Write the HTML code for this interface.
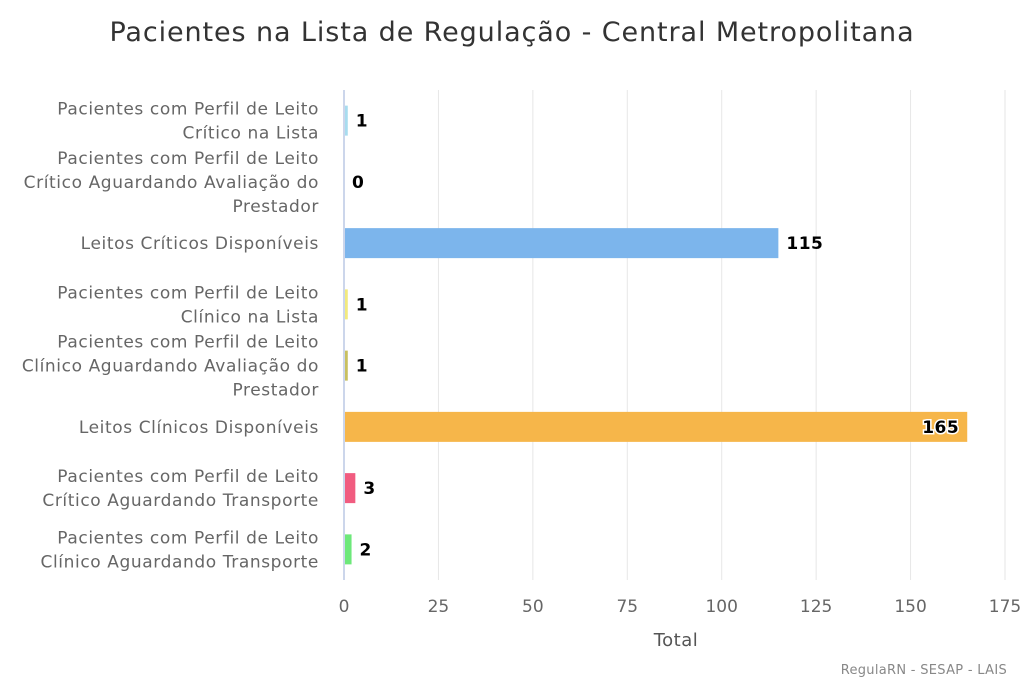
<!DOCTYPE html>
<html><head><meta charset="utf-8"><style>
body{margin:0;background:#fff;}
svg{display:block;font-family:"DejaVu Sans","Liberation Sans",sans-serif;}
</style></head><body>
<svg id="chart" width="1024" height="683" viewBox="0 0 1024 683">
<text x="512" y="41" text-anchor="middle" font-size="27" letter-spacing="0.9" fill="#333">Pacientes na Lista de Regulação - Central Metropolitana</text>
<g id="grid"></g><g id="bars"></g><g id="labels"></g>
<text x="676" y="646" text-anchor="middle" font-size="18" letter-spacing="0.5" fill="#555">Total</text>
<text x="1007" y="674" text-anchor="end" font-size="13" letter-spacing="0.3" fill="#888">RegulaRN - SESAP - LAIS</text>
</svg>
<script>
const categories=[["Pacientes com Perfil de Leito","Crítico na Lista"],["Pacientes com Perfil de Leito","Crítico Aguardando Avaliação do","Prestador"],["Leitos Críticos Disponíveis"],["Pacientes com Perfil de Leito","Clínico na Lista"],["Pacientes com Perfil de Leito","Clínico Aguardando Avaliação do","Prestador"],["Leitos Clínicos Disponíveis"],["Pacientes com Perfil de Leito","Crítico Aguardando Transporte"],["Pacientes com Perfil de Leito","Clínico Aguardando Transporte"]];
const values=[1,0,115,1,1,165,3,2];
const colors=["#a8dcef","#cccccc","#7cb5ec","#f2ea7e","#c8c060","#f6b64a","#f15c80","#6de87a"];
const ticks=[0,25,50,75,100,125,150,175];
const NS="http://www.w3.org/2000/svg";
const X0=344,X1=1005,T=90,B=580;
const x=v=>X0+(v-ticks[0])/(ticks[ticks.length-1]-ticks[0])*(X1-X0);
const band=(B-T)/categories.length;
const y=i=>T+band*(i+0.5);
function mk(tag,at,parent){const e=document.createElementNS(NS,tag);for(const k in at)e.setAttribute(k,at[k]);document.getElementById(parent).appendChild(e);return e;}
ticks.forEach(t=>{
 const l=mk("line",{x1:x(t),x2:x(t),y1:T,y2:B,stroke:t===0?"#ccd6eb":"#e6e6e6","stroke-width":t===0?2:1},"grid");
 
 
 const tx=mk("text",{x:x(t),y:612,"text-anchor":"middle","font-size":17,fill:"#666"},"grid");
 tx.textContent=t;
 
 
});
values.forEach((v,i)=>{
 const w=x(v)-x(0);
 if(v>0){const r=mk("rect",{x:x(0)+1,y:y(i)-15,width:Math.max(w-1,2),height:30,fill:colors[i]},"bars");
 
 }
 const inside=w>500;
 const lb=mk("text",{x:inside?x(v)-8:x(v)+8,y:y(i)+6,"text-anchor":inside?"end":"start","font-size":17,"font-weight":"bold","letter-spacing":0.5,fill:"#000",stroke:"#fff","stroke-width":inside?3:0,"paint-order":"stroke"},"labels");
 lb.textContent=v;
 
 
 const lines=categories[i];
 const ct=mk("text",{"text-anchor":"end","font-size":17,"letter-spacing":0.6,fill:"#666"},"labels");
 
 
 lines.forEach((s,j)=>{const ts=document.createElementNS(NS,"tspan");ts.setAttribute("x",319);ts.setAttribute("y",y(i)+6+(j-(lines.length-1)/2)*24);ts.textContent=s;ct.appendChild(ts);});
});
</script>
</body></html>
